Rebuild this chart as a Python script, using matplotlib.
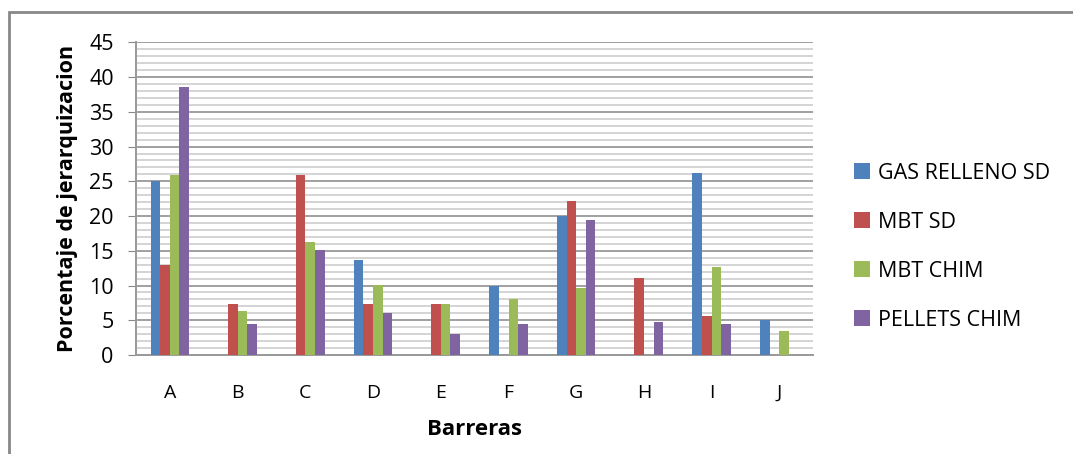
# Bar chart of ranking percentages per barrier for four treatment options
import numpy as np
import matplotlib.pyplot as plt
from matplotlib.patches import Rectangle
from matplotlib.ticker import MultipleLocator

plt.rcParams['font.family'] = ['Open Sans', 'DejaVu Sans']

barreras = ['A', 'B', 'C', 'D', 'E', 'F', 'G', 'H', 'I', 'J']
gas_relleno_sd = [25.0, 0, 0, 13.7, 0, 10.0, 20.0, 0, 26.2, 5.0]
mbt_sd = [13.0, 7.4, 25.9, 7.4, 7.4, 0, 22.1, 11.1, 5.6, 0]
mbt_chim = [25.9, 6.3, 16.2, 10.1, 7.4, 8.1, 9.6, 0, 12.7, 3.5]
pellets_chim = [38.6, 4.4, 15.1, 6.0, 3.0, 4.4, 19.4, 4.8, 4.4, 0]

series = [
    ('GAS RELLENO SD', gas_relleno_sd, '#4F81BD'),
    ('MBT SD', mbt_sd, '#C0504D'),
    ('MBT CHIM', mbt_chim, '#9BBB59'),
    ('PELLETS CHIM', pellets_chim, '#8064A2'),
]

fig = plt.figure(figsize=(10.73, 4.54), dpi=100)
ax = fig.add_axes([0.1267, 0.218, 0.6313, 0.6888])

x = np.arange(len(barreras))
width = 0.142
for i, (name, vals, color) in enumerate(series):
    ax.bar(x + (i - 1.5) * width, vals, width, color=color, label=name, zorder=3)

ax.set_xlim(-0.5, len(barreras) - 0.5)
ax.set_ylim(0, 45)
ax.yaxis.set_major_locator(MultipleLocator(5))
ax.yaxis.set_minor_locator(MultipleLocator(1))
ax.set_xticks(x)
ax.set_xticklabels(barreras, fontsize=14)
ax.tick_params(axis='y', labelsize=15.5, length=6, color='#888888', pad=10)
ax.tick_params(axis='y', which='minor', length=0)
ax.tick_params(axis='x', length=0, pad=21)

ax.grid(axis='y', which='minor', color='#d4d4d4', linewidth=1.4, zorder=0)
ax.grid(axis='y', which='major', color='#a0a0a0', linewidth=1.4, zorder=1)

for side in ['top', 'right']:
    ax.spines[side].set_visible(False)
ax.spines['left'].set_color('#999999')
ax.spines['bottom'].set_color('#999999')
ax.spines['left'].set_linewidth(1.4)
ax.spines['bottom'].set_linewidth(1.4)

ax.set_ylabel('Porcentaje de jerarquizacion', fontsize=15.5, fontweight='bold', labelpad=8)
ax.set_xlabel('Barreras', fontsize=16, fontweight='bold', labelpad=12)

fig.legend(loc='center left', bbox_to_anchor=(0.778, 0.457), frameon=False,
           fontsize=15.5, handlelength=0.75, handleheight=0.75, handletextpad=0.35,
           labelspacing=1.3)

# chart border
fig.patches.append(Rectangle((9 / 1073, -0.1), 1.2, 1.1 - 12 / 454,
                             transform=fig.transFigure, fill=False,
                             edgecolor='#888888', linewidth=2, zorder=10))

fig.savefig('out.png', dpi=100)
